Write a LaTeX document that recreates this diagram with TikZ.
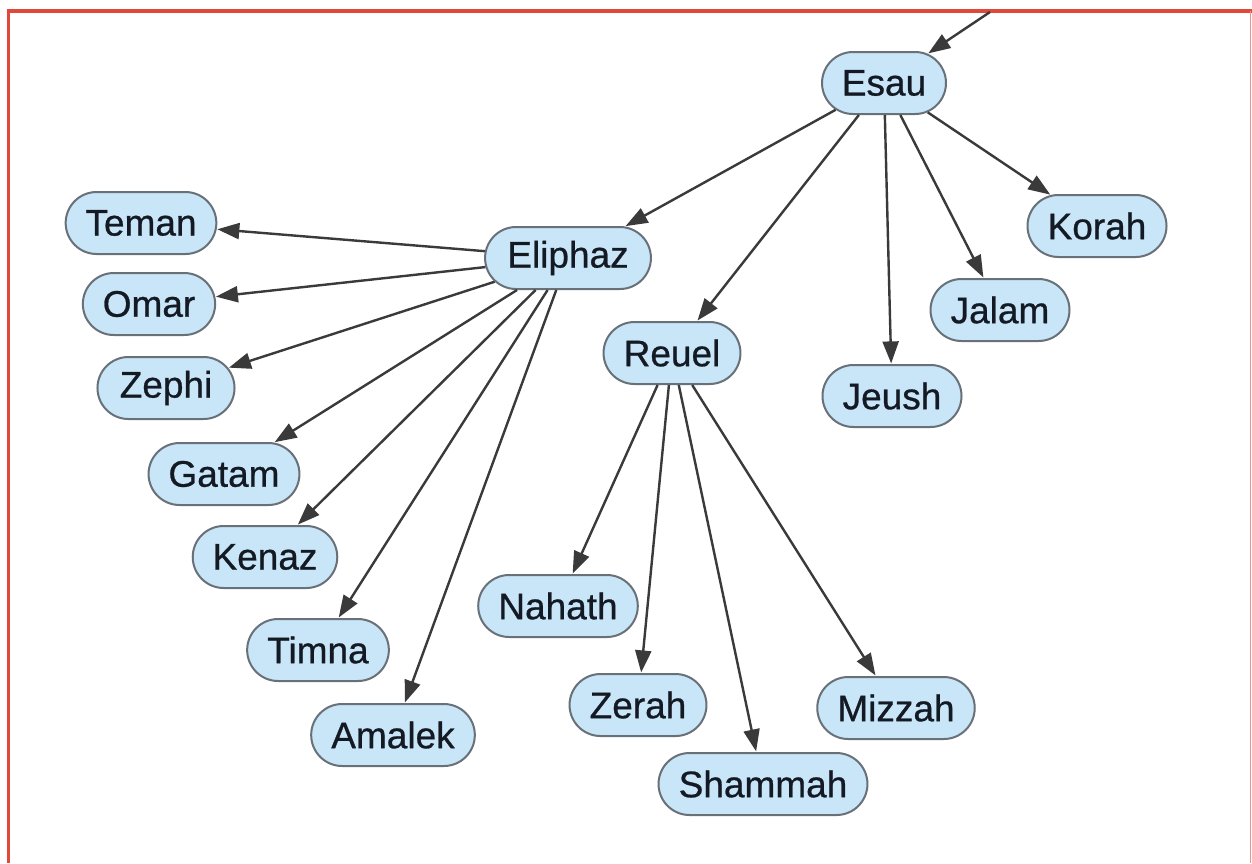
\documentclass[tikz,border=0pt]{standalone}
\usepackage{fontspec}
\setmainfont{Liberation Sans}[FakeBold=0.7]
\usetikzlibrary{arrows.meta,shapes.misc}
\definecolor{nodefill}{HTML}{C9E5F8}
\definecolor{nodeline}{HTML}{687078}
\definecolor{edgecol}{HTML}{3A3A3A}
\definecolor{framered}{HTML}{E0493A}
\definecolor{textcol}{HTML}{141A24}
\begin{document}
\begin{tikzpicture}[x=0.5pt,y=-0.5pt,
  person/.style={rounded rectangle, draw=nodeline, line width=1pt, fill=nodefill,
    minimum height=31pt, inner xsep=8.5pt, inner ysep=0pt,
    font=\fontsize{18.5}{22}\selectfont, text=textcol},
  link/.style={draw=edgecol, line width=1.2pt, -{Triangle[length=11pt,width=8pt]}, shorten >=0.3pt}]
\useasboundingbox (0,0) rectangle (1252,863);
\fill[white] (0,0) rectangle (1252,863);
\draw[framered, line width=1.7pt] (8.5,863) -- (8.5,11) -- (1252,11);
\draw[framered!60, line width=0.8pt] (1250.5,11) -- (1250.5,863);

\node[person] (esau) at (884,83) {Esau};
\node[person] (teman) at (141,223) {Teman};
\node[person] (eliphaz) at (568,258) {Eliphaz};
\node[person] (korah) at (1097,226) {Korah};
\node[person] (omar) at (149,304) {Omar};
\node[person] (jalam) at (1000,310) {Jalam};
\node[person] (reuel) at (672,353) {Reuel};
\node[person] (zephi) at (166,388) {Zephi};
\node[person] (jeush) at (892,396) {Jeush};
\node[person] (gatam) at (224,474) {Gatam};
\node[person] (kenaz) at (265,557) {Kenaz};
\node[person] (nahath) at (558,606) {Nahath};
\node[person] (timna) at (318,650) {Timna};
\node[person] (zerah) at (638,705) {Zerah};
\node[person] (mizzah) at (896,708) {Mizzah};
\node[person] (amalek) at (393,735) {Amalek};
\node[person] (shammah) at (763,784) {Shammah};

\coordinate (top) at (990,12);
\draw[link] (top) -- (esau);

\foreach \t in {eliphaz,reuel,jeush,jalam,korah}
  \draw[link] (esau) -- (\t);
\foreach \t in {teman,omar,zephi,gatam,kenaz,timna,amalek}
  \draw[link] (eliphaz) -- (\t);
\foreach \t in {nahath,zerah,shammah,mizzah}
  \draw[link] (reuel) -- (\t);
\end{tikzpicture}
\end{document}
